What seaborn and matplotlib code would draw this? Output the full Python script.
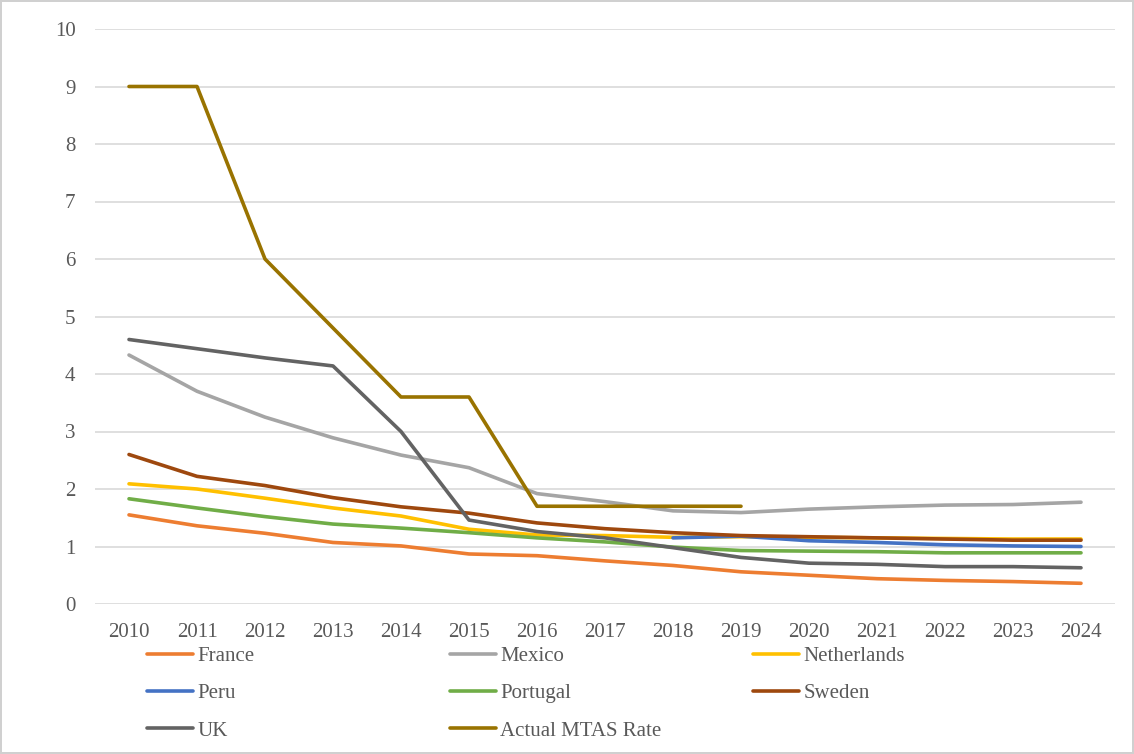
import numpy as np
import pandas as pd
import seaborn as sns
import matplotlib.pyplot as plt

years = list(range(2010, 2025))
france = [1.55, 1.36, 1.23, 1.07, 1.01, 0.87, 0.84, 0.75, 0.67, 0.56, 0.50, 0.44, 0.41, 0.39, 0.36]
mexico = [4.33, 3.70, 3.25, 2.89, 2.59, 2.37, 1.92, 1.78, 1.62, 1.59, 1.65, 1.69, 1.72, 1.73, 1.77]
netherlands = [2.09, 2.00, 1.84, 1.67, 1.53, 1.30, 1.20, 1.19, 1.16, 1.17, 1.16, 1.15, 1.14, 1.13, 1.13]
peru = [np.nan] * 8 + [1.15, 1.18, 1.10, 1.07, 1.03, 1.01, 1.00]
portugal = [1.83, 1.67, 1.52, 1.39, 1.32, 1.24, 1.15, 1.08, 0.99, 0.93, 0.92, 0.91, 0.89, 0.89, 0.89]
sweden = [2.60, 2.22, 2.06, 1.85, 1.69, 1.58, 1.41, 1.31, 1.24, 1.19, 1.17, 1.15, 1.13, 1.11, 1.11]
uk = [4.60, 4.44, 4.28, 4.14, 3.00, 1.46, 1.26, 1.15, 0.98, 0.81, 0.71, 0.69, 0.65, 0.65, 0.63]
mtas = [9.0, 9.0, 6.0, 4.8, 3.6, 3.6, 1.7, 1.7, 1.7, 1.7] + [np.nan] * 5

series = {"France": france, "Mexico": mexico, "Netherlands": netherlands, "Peru": peru,
          "Portugal": portugal, "Sweden": sweden, "UK": uk, "Actual MTAS Rate": mtas}
colors = {"France": "#ED7D31", "Mexico": "#A5A5A5", "Netherlands": "#FFC000", "Peru": "#4472C4",
          "Portugal": "#70AD47", "Sweden": "#9E480E", "UK": "#636363", "Actual MTAS Rate": "#997300"}

rows = []
for name, vals in series.items():
    for yr, v in zip(years, vals):
        rows.append([yr, v, name])
df = pd.DataFrame(rows, columns=["year", "value", "series"])

sns.set_theme(style="white")
plt.rcParams['font.family'] = ['Liberation Serif', 'DejaVu Serif']
txt = "#595959"

fig = plt.figure(figsize=(11.34, 7.54), dpi=100)
fig.patch.set_edgecolor("#d0d0d0")
fig.patch.set_linewidth(1.5)
ax = fig.add_axes([95 / 1134, 150 / 754, 1020 / 1134, 575 / 754])

# draw each series separately so gaps (NaN) stay as gaps
for name in series:
    sub = df[df.series == name].dropna()
    sns.lineplot(data=sub, x="year", y="value", color=colors[name], lw=2.6, ax=ax,
                 label=name, legend=False)

ax.set_xlim(2009.5, 2024.5)
ax.set_ylim(0, 10)
ax.set_xticks(years)
ax.set_yticks(range(0, 11))
ax.yaxis.grid(True, color="#d9d9d9", lw=1.2)
ax.set_axisbelow(True)
for s in ax.spines.values():
    s.set_visible(False)
ax.tick_params(axis="both", length=0, labelsize=15, colors=txt, pad=14)
ax.tick_params(axis="y", pad=14)
ax.set_xlabel("")
ax.set_ylabel("")

handles, labels = ax.get_legend_handles_labels()
hmap = dict(zip(labels, handles))
cols = [(["France", "Peru", "UK"], 139), (["Mexico", "Portugal", "Actual MTAS Rate"], 442),
        (["Netherlands", "Sweden"], 745)]
for names, xpix in cols:
    lg = fig.legend([hmap[n] for n in names], names, loc="upper left",
                    bbox_to_anchor=(xpix / 1134, 1 - 638 / 754), frameon=False,
                    fontsize=15, labelcolor=txt, handlelength=2.2, handletextpad=0.2,
                    labelspacing=0.85, borderaxespad=0)

fig.savefig("out.png", dpi=100)
